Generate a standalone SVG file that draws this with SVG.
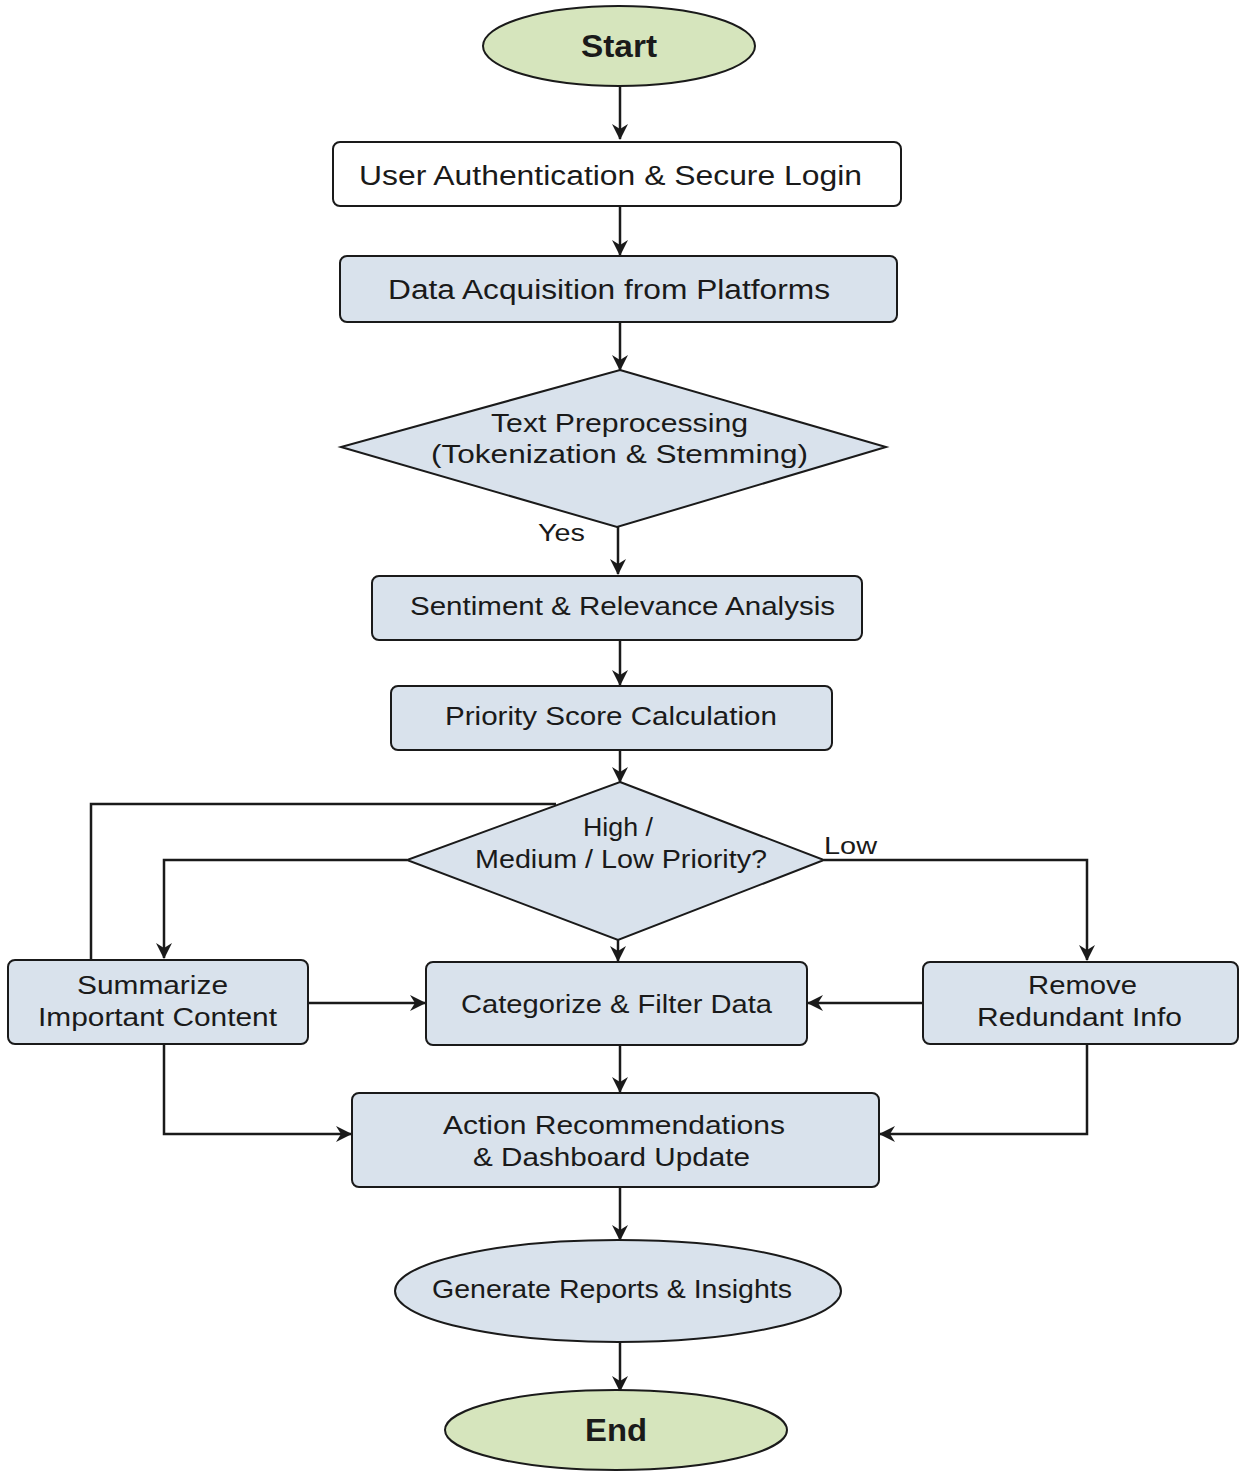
<svg xmlns="http://www.w3.org/2000/svg" width="1239" height="1473" viewBox="0 0 1239 1473">
<defs>
<style>
.box{fill:#d9e2ec;stroke:#1a1a1a;stroke-width:2}
.white{fill:#ffffff;stroke:#1a1a1a;stroke-width:2}
.term{fill:#d6e5bd;stroke:#1a1a1a;stroke-width:2}
.t{font-family:"Liberation Sans",Arial,sans-serif;font-size:26px;fill:#1a1a1a;text-anchor:middle}
.b{font-family:"Liberation Sans",Arial,sans-serif;font-size:31px;font-weight:bold;fill:#1a1a1a;text-anchor:middle}
.lbl{font-family:"Liberation Sans",Arial,sans-serif;font-size:23px;fill:#1a1a1a}
.c{fill:none;stroke:#1a1a1a;stroke-width:2.5}
</style>
<marker id="ah" viewBox="0 0 16 16" refX="15" refY="8" markerWidth="16" markerHeight="16" markerUnits="userSpaceOnUse" orient="auto">
<path d="M0,0 L16,8 L0,16 L5,8 Z" fill="#1a1a1a"/>
</marker>
</defs>
<rect width="1239" height="1473" fill="#ffffff"/>
<g id="connectors">
<path class="c" d="M620,86 V139" marker-end="url(#ah)"/>
<path class="c" d="M620,206 V255" marker-end="url(#ah)"/>
<path class="c" d="M620,322 V370" marker-end="url(#ah)"/>
<path class="c" d="M618,527 V574" marker-end="url(#ah)"/>
<path class="c" d="M620,640 V685" marker-end="url(#ah)"/>
<path class="c" d="M620,750 V782" marker-end="url(#ah)"/>
<path class="c" d="M91,960 V804 H556"/>
<path class="c" d="M407,860 H164 V958" marker-end="url(#ah)"/>
<path class="c" d="M824,860 H1087 V960" marker-end="url(#ah)"/>
<path class="c" d="M618,940 V961" marker-end="url(#ah)"/>
<path class="c" d="M308,1003 H425" marker-end="url(#ah)"/>
<path class="c" d="M923,1003 H808" marker-end="url(#ah)"/>
<path class="c" d="M620,1045 V1092" marker-end="url(#ah)"/>
<path class="c" d="M164,1044 V1134 H351" marker-end="url(#ah)"/>
<path class="c" d="M1087,1044 V1134 H880" marker-end="url(#ah)"/>
<path class="c" d="M620,1187 V1240" marker-end="url(#ah)"/>
<path class="c" d="M620,1342 V1391" marker-end="url(#ah)"/>
<text class="lbl" x="538" y="541" textLength="47" lengthAdjust="spacingAndGlyphs">Yes</text>
<text class="lbl" x="824" y="854" textLength="53" lengthAdjust="spacingAndGlyphs">Low</text>
</g>
<g id="start">
<ellipse class="term" cx="619" cy="46" rx="136" ry="40"/>
<text class="b" x="619" y="57" textLength="76" lengthAdjust="spacingAndGlyphs">Start</text>
</g>
<g id="auth">
<rect class="white" x="333" y="142" width="568" height="64" rx="7"/>
<text class="t" x="610.5" y="185" style="font-size:27px" textLength="503" lengthAdjust="spacingAndGlyphs">User Authentication &amp; Secure Login</text>
</g>
<g id="acquisition">
<rect class="box" x="340" y="256" width="557" height="66" rx="7"/>
<text class="t" x="609" y="299" style="font-size:27px" textLength="442" lengthAdjust="spacingAndGlyphs">Data Acquisition from Platforms</text>
</g>
<g id="preprocess">
<polygon class="box" points="620,370 886,447 617,527 341,447"/>
<text class="t" x="619.5" y="432" textLength="257" lengthAdjust="spacingAndGlyphs">Text Preprocessing</text>
<text class="t" x="619.5" y="463" textLength="377" lengthAdjust="spacingAndGlyphs">(Tokenization &amp; Stemming)</text>
</g>
<g id="sentiment">
<rect class="box" x="372" y="576" width="490" height="64" rx="7"/>
<text class="t" x="622.5" y="615" textLength="425" lengthAdjust="spacingAndGlyphs">Sentiment &amp; Relevance Analysis</text>
</g>
<g id="priority">
<rect class="box" x="391" y="686" width="441" height="64" rx="7"/>
<text class="t" x="611" y="725" textLength="332" lengthAdjust="spacingAndGlyphs">Priority Score Calculation</text>
</g>
<g id="decision">
<polygon class="box" points="620,782 824,860 618,940 407,860"/>
<text class="t" x="618" y="836" textLength="70" lengthAdjust="spacingAndGlyphs">High /</text>
<text class="t" x="621" y="868" textLength="292" lengthAdjust="spacingAndGlyphs">Medium / Low Priority?</text>
</g>
<g id="summarize">
<rect class="box" x="8" y="960" width="300" height="84" rx="7"/>
<text class="t" x="152.5" y="994" textLength="151" lengthAdjust="spacingAndGlyphs">Summarize</text>
<text class="t" x="157.5" y="1026" textLength="239" lengthAdjust="spacingAndGlyphs">Important Content</text>
</g>
<g id="categorize">
<rect class="box" x="426" y="962" width="381" height="83" rx="7"/>
<text class="t" x="616.5" y="1013" textLength="311" lengthAdjust="spacingAndGlyphs">Categorize &amp; Filter Data</text>
</g>
<g id="remove">
<rect class="box" x="923" y="962" width="315" height="82" rx="7"/>
<text class="t" x="1082.5" y="994" textLength="109" lengthAdjust="spacingAndGlyphs">Remove</text>
<text class="t" x="1079.5" y="1026" textLength="205" lengthAdjust="spacingAndGlyphs">Redundant Info</text>
</g>
<g id="action">
<rect class="box" x="352" y="1093" width="527" height="94" rx="7"/>
<text class="t" x="614" y="1134" textLength="342" lengthAdjust="spacingAndGlyphs">Action Recommendations</text>
<text class="t" x="611.5" y="1166" textLength="277" lengthAdjust="spacingAndGlyphs">&amp; Dashboard Update</text>
</g>
<g id="reports">
<ellipse class="box" cx="618" cy="1291" rx="223" ry="51"/>
<text class="t" x="612" y="1298" textLength="360" lengthAdjust="spacingAndGlyphs">Generate Reports &amp; Insights</text>
</g>
<g id="end">
<ellipse class="term" cx="616" cy="1430" rx="171" ry="40"/>
<text class="b" x="616" y="1441" textLength="62" lengthAdjust="spacingAndGlyphs">End</text>
</g>
</svg>
